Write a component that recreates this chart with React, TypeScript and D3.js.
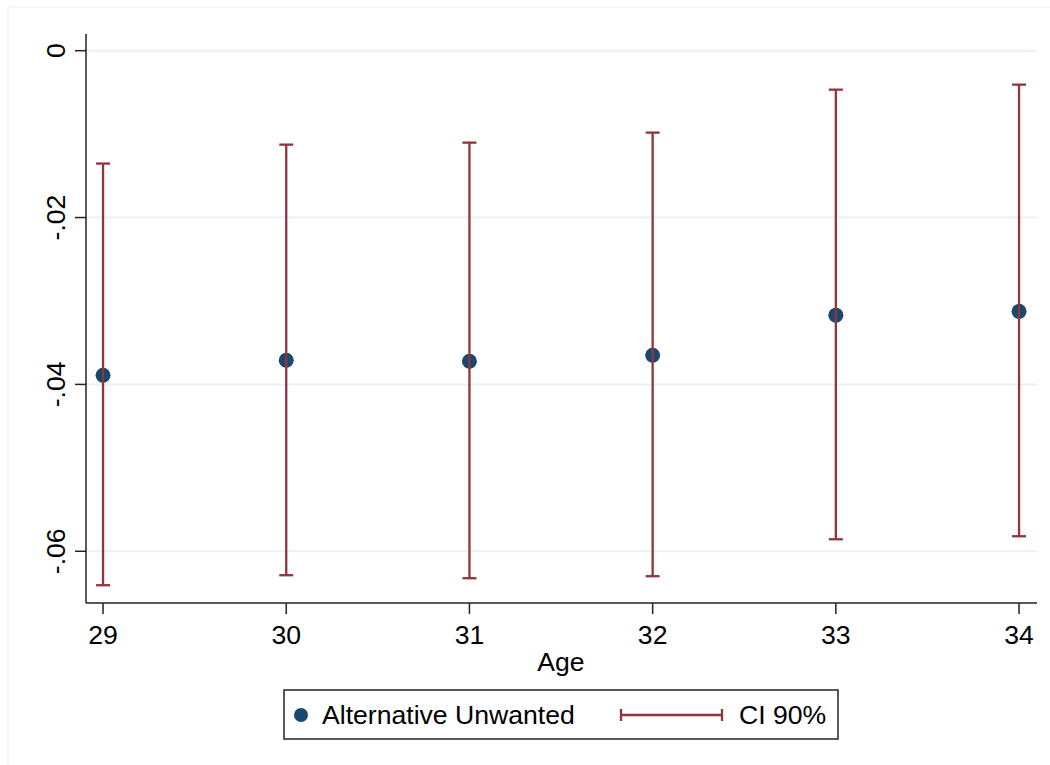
import React from "react";
import * as d3 from "d3";

// Estimates by age with 90% confidence intervals
const ages = [29, 30, 31, 32, 33, 34];
const estimates = [-0.0389, -0.0371, -0.03723, -0.0365, -0.0317, -0.03124];
const ciLower = [-0.06407, -0.06287, -0.06323, -0.06299, -0.05856, -0.0582];
const ciUpper = [-0.01353, -0.01126, -0.01102, -0.00982, -0.00467, -0.00407];
const yTicks = [0, -0.02, -0.04, -0.06];
const yTickLabels = ["0", "-.02", "-.04", "-.06"];

const W = 1050;
const H = 765;
const font = "Arial, 'Liberation Sans', Helvetica, sans-serif";
const navy = "#1a476f";
const maroon = "#90353b";
const fs = 26.6;

export default function App() {
  const left = 86;
  const right = 1037;
  const top = 34;
  const bottom = 603;

  const x = d3.scaleLinear().domain([28.907, 34.098]).range([left, right]);
  const y = d3.scaleLinear().domain([-0.0662, 0.002]).range([bottom, top]);

  const cap = 7;

  return (
    <svg
      width={W}
      height={H}
      style={{ position: "absolute", left: 0, top: 0, background: "#fff" }}
      fontFamily={font}
    >
      <rect x={8} y={7} width={W - 6} height={H - 6} fill="#fff" stroke="#eeeeee" strokeWidth={1} />

      {/* gridlines */}
      {yTicks.map((t) => (
        <line key={"g" + t} x1={left} x2={right} y1={y(t)} y2={y(t)} stroke="#eaf2f3" strokeWidth={2} />
      ))}

      {/* axes */}
      <line x1={left} x2={left} y1={top} y2={bottom} stroke="#222" strokeWidth={1.5} />
      <line x1={left} x2={right} y1={bottom} y2={bottom} stroke="#222" strokeWidth={1.5} />

      {yTicks.map((t, i) => (
        <g key={"yt" + t}>
          <line x1={left - 11} x2={left} y1={y(t)} y2={y(t)} stroke="#222" strokeWidth={1.5} />
          <text
            transform={`translate(65,${y(t)}) rotate(-90)`}
            textAnchor="middle"
            fontSize={fs}
            fill="#000"
          >
            {yTickLabels[i]}
          </text>
        </g>
      ))}

      {ages.map((a) => (
        <g key={"xt" + a}>
          <line x1={x(a)} x2={x(a)} y1={bottom} y2={bottom + 11} stroke="#222" strokeWidth={1.5} />
          <text x={x(a)} y={644} textAnchor="middle" fontSize={fs} fill="#000">
            {a}
          </text>
        </g>
      ))}

      <text x={561} y={671} textAnchor="middle" fontSize={fs} fill="#000">
        Age
      </text>

      {/* point estimates */}
      {ages.map((a, i) => (
        <circle key={"p" + a} cx={x(a)} cy={y(estimates[i])} r={7.5} fill={navy} />
      ))}

      {/* confidence intervals */}
      {ages.map((a, i) => (
        <g key={"ci" + a} stroke={maroon} strokeWidth={2.3}>
          <line x1={x(a)} x2={x(a)} y1={y(ciUpper[i])} y2={y(ciLower[i])} />
          <line x1={x(a) - cap} x2={x(a) + cap} y1={y(ciUpper[i])} y2={y(ciUpper[i])} />
          <line x1={x(a) - cap} x2={x(a) + cap} y1={y(ciLower[i])} y2={y(ciLower[i])} />
        </g>
      ))}

      {/* legend */}
      <rect x={284} y={690} width={554} height={49} fill="#fff" stroke="#222" strokeWidth={1.5} />
      <circle cx={301} cy={715} r={7} fill={navy} />
      <text x={322} y={724} fontSize={fs} fill="#000">
        Alternative Unwanted
      </text>
      <g stroke={maroon} strokeWidth={2.3}>
        <line x1={621} x2={722} y1={715} y2={715} />
        <line x1={621} x2={621} y1={709} y2={721} />
        <line x1={722} x2={722} y1={709} y2={721} />
      </g>
      <text x={739} y={724} fontSize={fs} fill="#000">
        CI 90%
      </text>
    </svg>
  );
}
